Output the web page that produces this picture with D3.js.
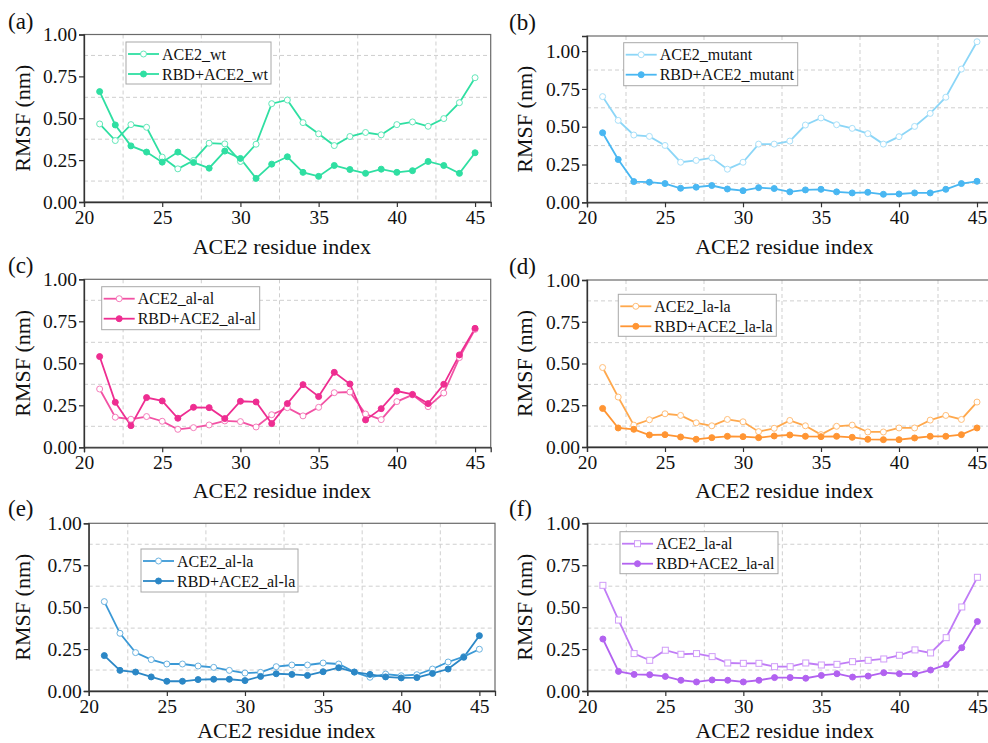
<!DOCTYPE html>
<html>
<head>
<meta charset="utf-8">
<script src="https://cdn.jsdelivr.net/npm/d3@7"></script>
<style>
  html, body { margin: 0; padding: 0; background: #fff; }
  svg { display: block; }
  svg text { font-family: "Liberation Serif", Tinos, "Times New Roman", "DejaVu Serif", serif !important; }
</style>
</head>
<body>
<svg id="chart" width="988" height="743"></svg>
<script>
// ---------------- data ----------------
const residues = [21,22,23,24,25,26,27,28,29,30,31,32,33,34,35,36,37,38,39,40,41,42,43,44,45];
const xTicks = [20,25,30,35,40,45];
const yTicks = [0,0.25,0.5,0.75,1.0];
const panelLabels = ["(a)","(b)","(c)","(d)","(e)","(f)"];
const freeNames  = ["ACE2_wt","ACE2_mutant","ACE2_al-al","ACE2_la-la","ACE2_al-la","ACE2_la-al"];
const boundNames = ["RBD+ACE2_wt","RBD+ACE2_mutant","RBD+ACE2_al-al","RBD+ACE2_la-la","RBD+ACE2_al-la","RBD+ACE2_la-al"];
const xTitle = "ACE2 residue index";
const yTitle = "RMSF (nm)";

const wtFree  = [0.466,0.367,0.462,0.446,0.268,0.198,0.248,0.351,0.347,0.242,0.345,0.587,0.609,0.474,0.407,0.337,0.391,0.415,0.401,0.462,0.478,0.452,0.498,0.593,0.742];
const wtBound = [0.659,0.460,0.335,0.298,0.238,0.298,0.236,0.202,0.304,0.260,0.141,0.226,0.270,0.177,0.153,0.218,0.194,0.171,0.196,0.177,0.187,0.242,0.218,0.171,0.294];

const mutFree  = [0.699,0.542,0.445,0.436,0.376,0.265,0.277,0.294,0.219,0.265,0.385,0.385,0.405,0.511,0.558,0.513,0.489,0.454,0.385,0.434,0.502,0.588,0.695,0.881,1.062];
const mutBound = [0.460,0.283,0.137,0.133,0.124,0.093,0.100,0.111,0.088,0.077,0.097,0.091,0.069,0.082,0.086,0.069,0.062,0.066,0.053,0.055,0.062,0.062,0.086,0.124,0.139];

const alalFree  = [0.347,0.179,0.167,0.183,0.155,0.107,0.117,0.133,0.157,0.153,0.121,0.194,0.236,0.187,0.238,0.325,0.329,0.198,0.165,0.272,0.312,0.242,0.323,0.534,0.702];
const alalBound = [0.540,0.268,0.129,0.296,0.276,0.173,0.238,0.236,0.171,0.274,0.270,0.141,0.260,0.373,0.302,0.446,0.377,0.163,0.230,0.335,0.315,0.260,0.375,0.550,0.708];

const lalaFree  = [0.476,0.299,0.131,0.163,0.199,0.189,0.145,0.127,0.165,0.151,0.092,0.112,0.159,0.127,0.074,0.124,0.131,0.090,0.090,0.114,0.114,0.161,0.189,0.165,0.269];
const lalaBound = [0.231,0.114,0.106,0.072,0.074,0.060,0.046,0.056,0.064,0.062,0.056,0.066,0.072,0.064,0.062,0.064,0.058,0.046,0.044,0.044,0.054,0.064,0.064,0.074,0.114];

const allaFree  = [0.533,0.344,0.229,0.187,0.161,0.161,0.149,0.141,0.123,0.107,0.111,0.145,0.155,0.155,0.167,0.161,0.113,0.082,0.101,0.091,0.097,0.131,0.173,0.205,0.249];
const allaBound = [0.211,0.123,0.113,0.084,0.058,0.058,0.068,0.070,0.070,0.062,0.087,0.103,0.099,0.093,0.115,0.139,0.113,0.099,0.084,0.078,0.080,0.105,0.131,0.201,0.330];

const laalFree  = [0.630,0.423,0.223,0.183,0.243,0.219,0.223,0.205,0.167,0.165,0.165,0.145,0.145,0.167,0.155,0.159,0.175,0.183,0.191,0.213,0.245,0.227,0.318,0.501,0.678];
const laalBound = [0.310,0.117,0.099,0.097,0.087,0.064,0.054,0.066,0.064,0.054,0.064,0.080,0.080,0.076,0.093,0.103,0.083,0.089,0.109,0.103,0.101,0.125,0.157,0.258,0.414];

const freeSeries  = [wtFree, mutFree, alalFree, lalaFree, allaFree, laalFree];
const boundSeries = [wtBound, mutBound, alalBound, lalaBound, allaBound, laalBound];

// ---------------- layout & style ----------------
const FONT = "'Liberation Serif', Tinos, 'Times New Roman', 'DejaVu Serif', serif";
const freeColors  = ["#2fdfa2","#8cd6f7","#f252a4","#ffa84c","#3b99d6","#c07cf6"];
const boundColors = ["#2fdfa2","#49b7f2","#ee2d91","#ff9533","#2b87c6","#b262f0"];
const freeMarker  = ["circle","circle","circle","circle","circle","square"];

const layouts = [
  {l:84,   t:34.5, r:490.7, b:202,   ymax:1.0, lab:[8,29],    yt:30,  xt:52, leg:{x:126,  y:42,  w:145, h:42}},
  {l:587,  t:36,   r:992.6, b:202.3, ymax:1.1, lab:[509,30],  yt:532, xt:52, leg:{x:623.7,y:42.7,w:174, h:43}},
  {l:84,   t:279.3,r:490.7, b:447.3, ymax:1.0, lab:[8,273],   yt:30,  xt:51, leg:{x:101.7,y:286.7,w:158,h:43}},
  {l:587,  t:280,  r:992.6, b:447,   ymax:1.0, lab:[509,274], yt:532, xt:51, leg:{x:618.3,y:294.3,w:158,h:42}},
  {l:88.7, t:523.3,r:495,   b:691,   ymax:1.0, lab:[8,516],   yt:30,  xt:47, leg:{x:141,  y:549,  w:157, h:43}},
  {l:587.3,t:523.3,r:993,   b:691,   ymax:1.0, lab:[509,516], yt:532, xt:47, leg:{x:620,  y:531.7,w:158,h:42}}
];

const svg = d3.select("#chart");
const fmt = d3.format(".2f");
const gridX = [22.5,27.5,32.5,37.5,42.5];
const gridY = [0.125,0.375,0.625,0.875];

function drawMarker(g, type, cx, cy, fill, stroke) {
  if (type === "square") {
    g.append("rect").attr("x", cx-3).attr("y", cy-3).attr("width", 6).attr("height", 6)
      .attr("fill", fill).attr("stroke", stroke).attr("stroke-width", 1);
  } else {
    g.append("circle").attr("cx", cx).attr("cy", cy).attr("r", 3)
      .attr("fill", fill).attr("stroke", stroke).attr("stroke-width", 1);
  }
}

layouts.forEach((L, i) => {
  const g = svg.append("g").attr("font-family", FONT);
  const x = d3.scaleLinear().domain([20, 46]).range([L.l, L.r]);
  const y = d3.scaleLinear().domain([0, L.ymax]).range([L.b, L.t]);

  // grid
  g.selectAll(".gx").data(gridX).enter().append("line")
    .attr("x1", d => x(d)).attr("x2", d => x(d)).attr("y1", L.t).attr("y2", L.b)
    .attr("stroke", "#cfcfcf").attr("stroke-width", 1).attr("stroke-dasharray", "4,3");
  g.selectAll(".gy").data(gridY).enter().append("line")
    .attr("x1", L.l).attr("x2", L.r).attr("y1", d => y(d)).attr("y2", d => y(d))
    .attr("stroke", "#cfcfcf").attr("stroke-width", 1).attr("stroke-dasharray", "4,3");

  // frame
  g.append("rect").attr("x", L.l).attr("y", L.t).attr("width", L.r - L.l).attr("height", L.b - L.t)
    .attr("fill", "none").attr("stroke", "#6a6a6a").attr("stroke-width", 1.2);

  // axes
  const xAxis = d3.axisBottom(x).tickValues(xTicks).tickSize(5).tickPadding(3).tickFormat(d3.format("d"));
  const gxA = g.append("g").attr("transform", `translate(0,${L.b})`).call(xAxis);
  const yAxis = d3.axisLeft(y).tickValues(yTicks).tickSize(5).tickPadding(2).tickFormat(fmt);
  const gyA = g.append("g").attr("transform", `translate(${L.l},0)`).call(yAxis);
  [gxA, gyA].forEach(a => {
    a.attr("font-family", FONT).attr("font-size", 19.5);
    a.select(".domain").attr("stroke", "#333").attr("stroke-width", 1.3);
    a.selectAll(".tick line").attr("stroke", "#333").attr("stroke-width", 1.2);
    a.selectAll(".tick text").attr("fill", "#111");
  });

  // series
  const line = d3.line().x((d, k) => x(residues[k])).y(d => y(d));
  const fc = freeColors[i], bc = boundColors[i];
  const mStroke = d3.interpolateRgb(fc, "#ffffff")(0.25);

  g.append("path").datum(freeSeries[i]).attr("d", line)
    .attr("fill", "none").attr("stroke", fc).attr("stroke-width", 1.8);
  g.append("path").datum(boundSeries[i]).attr("d", line)
    .attr("fill", "none").attr("stroke", bc).attr("stroke-width", 1.8);

  freeSeries[i].forEach((v, k) => drawMarker(g, freeMarker[i], x(residues[k]), y(v), "#fff", mStroke));
  boundSeries[i].forEach((v, k) => drawMarker(g, "circle", x(residues[k]), y(v), bc, bc));

  // legend
  const lg = L.leg;
  g.append("rect").attr("x", lg.x).attr("y", lg.y).attr("width", lg.w).attr("height", lg.h)
    .attr("fill", "#fff").attr("stroke", "#a8a8a8").attr("stroke-width", 1);
  const rows = [
    {name: freeNames[i], col: fc, fill: "#fff", stroke: mStroke, type: freeMarker[i], dy: 12},
    {name: boundNames[i], col: bc, fill: bc, stroke: bc, type: "circle", dy: 32}
  ];
  rows.forEach(rw => {
    const ry = lg.y + rw.dy;
    g.append("line").attr("x1", lg.x + 2).attr("x2", lg.x + 33).attr("y1", ry).attr("y2", ry)
      .attr("stroke", rw.col).attr("stroke-width", 1.8);
    drawMarker(g, rw.type, lg.x + 17.5, ry, rw.fill, rw.stroke);
    g.append("text").attr("x", lg.x + 36).attr("y", ry + 5.5).text(rw.name)
      .attr("font-size", 16).attr("fill", "#111");
  });

  // titles
  g.append("text").attr("x", (x(20) + x(45.3)) / 2).attr("y", L.b + L.xt)
    .attr("text-anchor", "middle").attr("font-size", 22).attr("fill", "#111").text(xTitle);
  g.append("text").attr("transform", `translate(${L.yt},${(L.t + L.b) / 2}) rotate(-90)`)
    .attr("text-anchor", "middle").attr("font-size", 22).attr("fill", "#111").text(yTitle);
  g.append("text").attr("x", L.lab[0]).attr("y", L.lab[1])
    .attr("font-size", 23).attr("fill", "#111").text(panelLabels[i]);
});
</script>
</body>
</html>
